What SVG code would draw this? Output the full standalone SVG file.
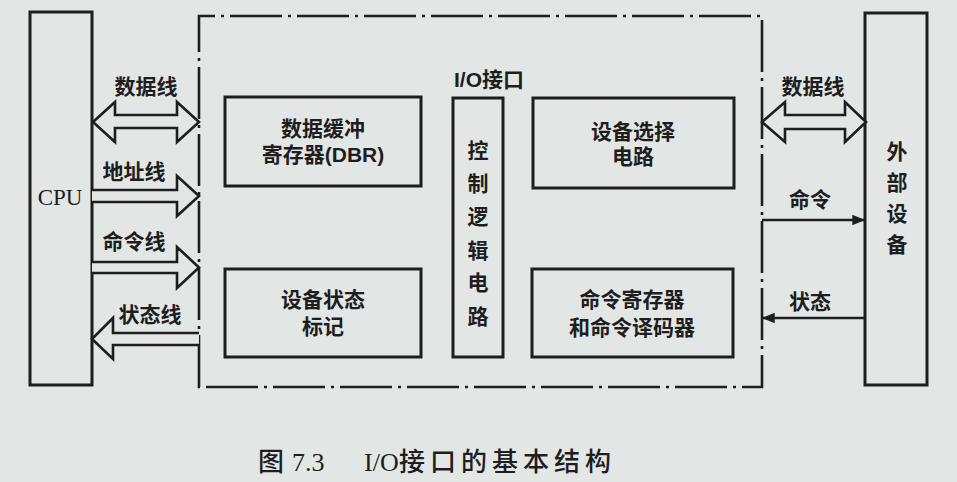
<svg xmlns="http://www.w3.org/2000/svg" width="957" height="482" viewBox="0 0 957 482">
<defs>
<style>
.box{fill:none;stroke:#1e1e1e;stroke-width:3}
.big{fill:#e2e6e5;stroke:#1e1e1e;stroke-width:2.6;stroke-linejoin:miter}
.dash{fill:none;stroke:#1e1e1e;stroke-width:2.6;stroke-dasharray:52 6 3 6}
.ln{fill:none;stroke:#1e1e1e;stroke-width:2.6}
.t{font-family:"Liberation Sans","Noto Sans CJK SC",sans-serif;font-weight:bold;font-size:21px;fill:#1e1e1e;text-anchor:middle}
.cap{font-family:"Liberation Serif","Noto Sans CJK SC",serif;font-size:26px;fill:#1e1e1e;font-weight:500}
</style>
<marker id="ah" viewBox="0 0 10 10" refX="9" refY="5" markerWidth="5" markerHeight="5" orient="auto" markerUnits="strokeWidth">
<path d="M0,1 L10,5 L0,9 z" fill="#1e1e1e"/>
</marker>
</defs>
<rect x="0" y="0" width="957" height="482" fill="#e2e6e5"/>

<g id="cpu">
<rect class="box" x="30" y="12" width="62" height="373"/>
<text x="60" y="205" font-family="Liberation Serif, serif" font-size="23" fill="#1e1e1e" text-anchor="middle">CPU</text>
</g>

<g id="io">
<path class="dash" d="M199,387 L199,16 L762,16 L762,387 Z"/>
<text class="t" x="489" y="87">I/O接口</text>
</g>

<g id="dbr">
<rect class="box" x="225" y="97" width="196" height="89"/>
<text class="t" x="323" y="136">数据缓冲</text>
<text class="t" x="323" y="162">寄存器(DBR)</text>
</g>

<g id="status-flag">
<rect class="box" x="225" y="269" width="196" height="88"/>
<text class="t" x="323" y="307">设备状态</text>
<text class="t" x="323" y="334">标记</text>
</g>

<g id="ctrl">
<rect class="box" x="453" y="98" width="50" height="259"/>
<text class="t" x="478" y="158">控</text>
<text class="t" x="478" y="191">制</text>
<text class="t" x="478" y="224">逻</text>
<text class="t" x="478" y="258">辑</text>
<text class="t" x="478" y="290">电</text>
<text class="t" x="478" y="324">路</text>
</g>

<g id="devsel">
<rect class="box" x="533" y="98" width="201" height="90"/>
<text class="t" x="633" y="139">设备选择</text>
<text class="t" x="633" y="164">电路</text>
</g>

<g id="cmdreg">
<rect class="box" x="532" y="269" width="201" height="88"/>
<text class="t" x="632" y="307">命令寄存器</text>
<text class="t" x="632" y="335">和命令译码器</text>
</g>

<g id="ext">
<rect class="box" x="865" y="13" width="62" height="372"/>
<text class="t" x="897" y="159">外</text>
<text class="t" x="897" y="190">部</text>
<text class="t" x="897" y="221">设</text>
<text class="t" x="897" y="252">备</text>
</g>

<g id="connectors">
<polygon class="big" points="93,122 115,102 115,115 177,115 177,102 199,122 177,142 177,128 115,128 115,142"/>
<text class="t" x="146" y="94">数据线</text>
<path class="big" d="M92,190 L177,190 L177,176 L199,196 L177,216 L177,202 L92,202"/>
<text class="t" x="134" y="179">地址线</text>
<path class="big" d="M92,262 L177,262 L177,247 L199,267.5 L177,288 L177,273 L92,273"/>
<text class="t" x="134" y="249">命令线</text>
<path class="big" d="M199,333 L113,333 L113,318 L92,339 L113,359 L113,345 L199,345"/>
<text class="t" x="150" y="322">状态线</text>

<polygon class="big" points="762,122 785,102 785,115 845,115 845,102 866,122 845,142 845,129 785,129 785,142"/>
<text class="t" x="813" y="94">数据线</text>
<line class="ln" x1="762" y1="220" x2="864" y2="220" marker-end="url(#ah)"/>
<text class="t" x="810" y="207">命令</text>
<line class="ln" x1="865" y1="318" x2="763" y2="318" marker-end="url(#ah)"/>
<text class="t" x="810" y="309">状态</text>
</g>

<text class="cap" y="471"><tspan x="258">图</tspan><tspan x="292">7.3</tspan><tspan x="364">I/O</tspan><tspan x="399" letter-spacing="5">接口的基本结构</tspan></text>
</svg>
